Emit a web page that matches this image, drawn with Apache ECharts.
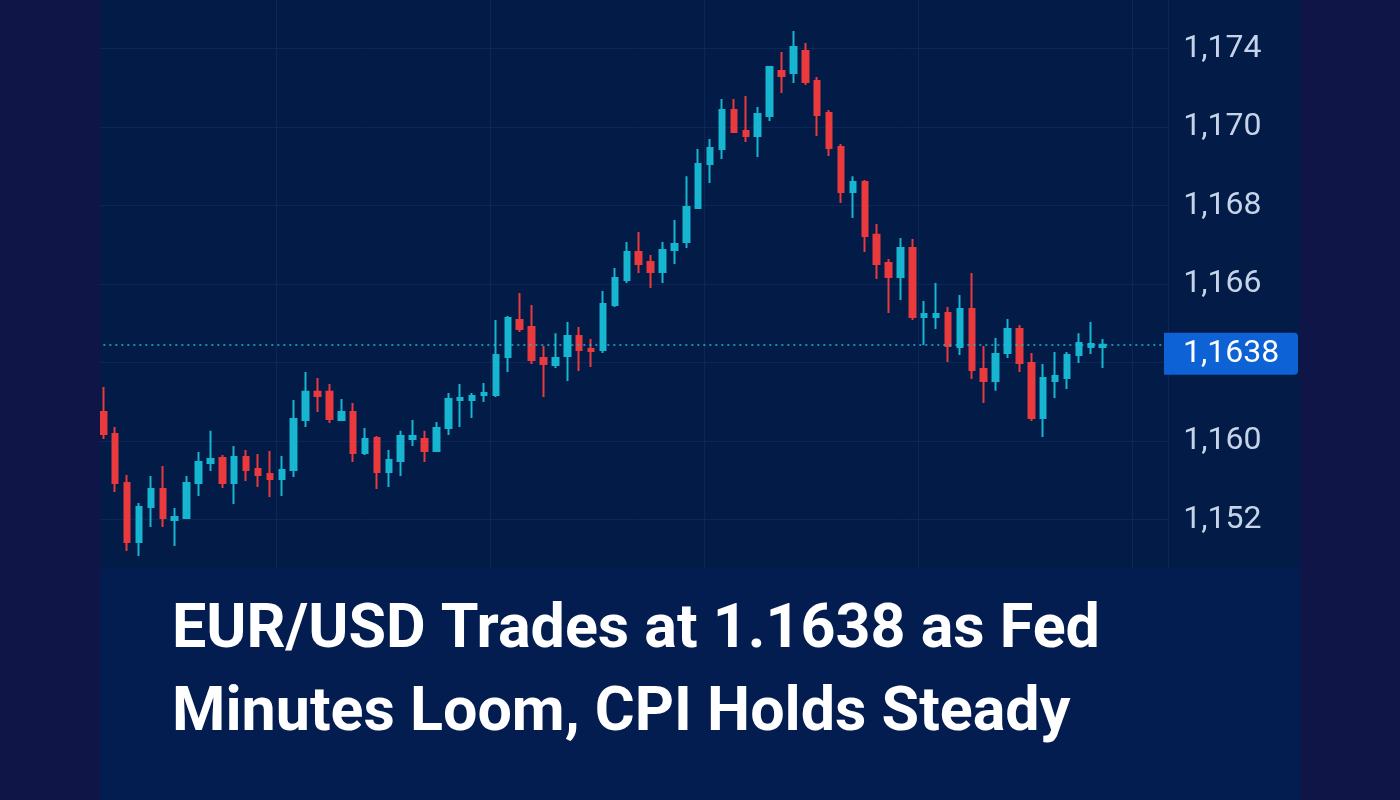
<!DOCTYPE html>
<html><head><meta charset="utf-8">
<script src="https://cdn.jsdelivr.net/npm/echarts@6/dist/echarts.min.js"></script>
<style>html,body{margin:0;padding:0;background:#0f1647;}#c{width:1400px;height:800px;}</style>
</head><body><div id="c"></div>
<script>
const sessions = ['1','2','3','4','5','6','7','8','9','10','11','12','13','14','15','16','17','18','19','20',
'21','22','23','24','25','26','27','28','29','30','31','32','33','34','35','36','37','38','39','40',
'41','42','43','44','45','46','47','48','49','50','51','52','53','54','55','56','57','58','59','60',
'61','62','63','64','65','66','67','68','69','70','71','72','73','74','75','76','77','78','79','80',
'81','82','83','84','85'];

const opens = [
1.16115,1.16028,1.15834,1.15601,1.15739,1.15810,1.15688,1.15696,1.15834,1.15913,
1.15933,1.15834,1.15937,1.15889,1.15870,1.15850,1.15885,1.16083,1.16194,1.16194,
1.16083,1.16115,1.15953,1.16012,1.15878,1.15921,1.16008,1.16008,1.15961,1.16051,
1.16162,1.16162,1.16182,1.16182,1.16332,1.16478,1.16450,1.16328,1.16300,1.16336,
1.16415,1.16363,1.16359,1.16537,1.16636,1.16746,1.16707,1.16667,1.16754,1.16786,
1.16920,1.17094,1.17153,1.17307,1.17224,1.17204,1.17283,1.17461,1.17453,1.17540,
1.17422,1.17295,1.17161,1.16983,1.17023,1.16814,1.16703,1.16648,1.16762,1.16490,
1.16490,1.16505,1.16371,1.16521,1.16284,1.16237,1.16348,1.16442,1.16308,1.16091,
1.16237,1.16249,1.16340,1.16371,1.16371];

const closes = [
1.16028,1.15834,1.15601,1.15739,1.15810,1.15696,1.15700,1.15834,1.15917,1.15929,
1.15834,1.15937,1.15885,1.15866,1.15850,1.15885,1.16087,1.16194,1.16178,1.16087,
1.16115,1.15953,1.16008,1.15878,1.15925,1.16020,1.16020,1.15961,1.16051,1.16166,
1.16170,1.16178,1.16190,1.16340,1.16486,1.16442,1.16320,1.16304,1.16328,1.16415,
1.16359,1.16355,1.16541,1.16644,1.16746,1.16699,1.16667,1.16754,1.16778,1.16924,
1.17094,1.17157,1.17307,1.17220,1.17204,1.17291,1.17477,1.17441,1.17556,1.17418,
1.17287,1.17157,1.16983,1.17023,1.16810,1.16699,1.16648,1.16762,1.16490,1.16502,
1.16502,1.16375,1.16521,1.16280,1.16237,1.16344,1.16442,1.16308,1.16091,1.16249,
1.16257,1.16340,1.16387,1.16383,1.16380];

const lows = [
1.16008,1.15799,1.15566,1.15546,1.15660,1.15660,1.15585,1.15692,1.15783,1.15882,
1.15814,1.15751,1.15842,1.15818,1.15779,1.15783,1.15858,1.16055,1.16115,1.16071,
1.16079,1.15917,1.15945,1.15810,1.15818,1.15862,1.15980,1.15917,1.15957,1.16024,
1.16055,1.16091,1.16154,1.16174,1.16272,1.16430,1.16304,1.16174,1.16288,1.16237,
1.16276,1.16292,1.16348,1.16529,1.16624,1.16663,1.16604,1.16624,1.16699,1.16762,
1.16916,1.17019,1.17114,1.17216,1.17181,1.17122,1.17264,1.17374,1.17414,1.17406,
1.17204,1.17125,1.16940,1.16881,1.16746,1.16640,1.16505,1.16557,1.16478,1.16379,
1.16442,1.16312,1.16340,1.16245,1.16150,1.16198,1.16328,1.16272,1.16079,1.16016,
1.16170,1.16205,1.16308,1.16344,1.16288];

const highs = [
1.16213,1.16055,1.15866,1.15755,1.15862,1.15901,1.15735,1.15862,1.15957,1.16040,
1.15945,1.15980,1.15964,1.15949,1.15961,1.15941,1.16162,1.16272,1.16249,1.16225,
1.16166,1.16150,1.16051,1.16020,1.15964,1.16040,1.16083,1.16040,1.16075,1.16190,
1.16225,1.16190,1.16229,1.16478,1.16494,1.16584,1.16537,1.16375,1.16426,1.16470,
1.16450,1.16403,1.16592,1.16683,1.16786,1.16825,1.16735,1.16786,1.16873,1.17046,
1.17153,1.17193,1.17351,1.17351,1.17362,1.17319,1.17481,1.17536,1.17619,1.17572,
1.17437,1.17307,1.17173,1.17046,1.17031,1.16857,1.16719,1.16802,1.16798,1.16553,
1.16624,1.16529,1.16577,1.16663,1.16375,1.16407,1.16482,1.16458,1.16348,1.16304,
1.16351,1.16351,1.16426,1.16470,1.16403];

const lastPrice = 1.1638;
const lastPriceLabel = '1,1638';
const tickValues = [1.1569, 1.1600, 1.1631, 1.1662, 1.1693, 1.1724, 1.1755];
const tickLabels = ['1,152', '1,160', '', '1,166', '1,168', '1,170', '1,174'];
const titleLines = ['EUR/USD Trades at 1.1638 as Fed', 'Minutes Loom, CPI Holds Steady'];

const UP = '#17b5d0', DOWN = '#ea3a3e', GRID = '#0c2659';
const chart = echarts.init(document.getElementById('c'), null, {renderer: 'canvas'});
const candles = opens.map((o, i) => [o, closes[i], lows[i], highs[i]]);

function labelFor(v) {
  for (let i = 0; i < tickValues.length; i++) {
    if (Math.abs(tickValues[i] - v) < 1e-6) return tickLabels[i];
  }
  return '';
}

function baseGraphics() {
  return [
    {id: 'bandL', type: 'rect', z: 100, silent: true, shape: {x: 0, y: 0, width: 100, height: 800}, style: {fill: '#0f1647'}},
    {id: 'bandR', type: 'rect', z: 100, silent: true, shape: {x: 1300, y: 0, width: 100, height: 800}, style: {fill: '#0f1647'}},
    {id: 'titlePanel', type: 'rect', z: 100, silent: true, shape: {x: 100, y: 568, width: 1200, height: 232}, style: {fill: '#031d51'}},
    {id: 't1', type: 'text', z: 101, silent: true, x: 172, y: 632,
      style: {text: titleLines[0], fill: '#ffffff', font: 'bold 61px Roboto', align: 'left', verticalAlign: 'middle'}},
    {id: 't2', type: 'text', z: 101, silent: true, x: 172, y: 715,
      style: {text: titleLines[1], fill: '#ffffff', font: 'bold 61px Roboto', align: 'left', verticalAlign: 'middle'}}
  ];
}

const option = {
  backgroundColor: '#021b47',
  animation: false,
  grid: {left: 97.35, width: 1070.8, top: -30, height: 628, containLabel: false, outerBoundsMode: 'none'},
  xAxis: {
    type: 'category', data: sessions, max: 89, boundaryGap: true,
    axisLine: {show: false}, axisTick: {show: false}, axisLabel: {show: false},
    splitLine: {show: true, interval: (i) => i >= 15 && (i - 15) % 18 === 0, lineStyle: {color: GRID, width: 1}}
  },
  yAxis: {
    type: 'value', position: 'right', min: 1.1538, max: 1.1786, interval: 0.0031,
    axisLine: {show: false}, axisTick: {show: false},
    axisLabel: {margin: 15, color: '#c6d4ea', fontSize: 32, fontFamily: 'Roboto', formatter: labelFor},
    splitLine: {show: true, lineStyle: {color: GRID, width: 1}}
  },
  series: [{
    type: 'candlestick', data: candles, barWidth: 6,
    itemStyle: {color: UP, color0: DOWN, borderColor: UP, borderColor0: DOWN, borderWidth: 2},
    markLine: {
      silent: true, symbol: ['none', 'none'], label: {show: false}, precision: 4,
      lineStyle: {type: [2, 4], color: '#1ab9d6', width: 1.5},
      data: [{yAxis: lastPrice}]
    }
  }],
  graphic: {elements: baseGraphics()}
};
chart.setOption(option);

const py = chart.convertToPixel({yAxisIndex: 0}, lastPrice);
const els = baseGraphics().concat([
  {id: 'badge', type: 'rect', z: 102, silent: true, shape: {x: 1164, y: py - 12, width: 134, height: 42, r: [0, 4, 4, 0]}, style: {fill: '#0d62d6'}},
  {id: 'badgeText', type: 'text', z: 103, silent: true, x: 1183, y: py + 9,
    style: {text: lastPriceLabel, fill: '#ffffff', font: '32px Roboto', align: 'left', verticalAlign: 'middle'}}
]);
chart.setOption({graphic: {elements: els}});
</script>
</body></html>
